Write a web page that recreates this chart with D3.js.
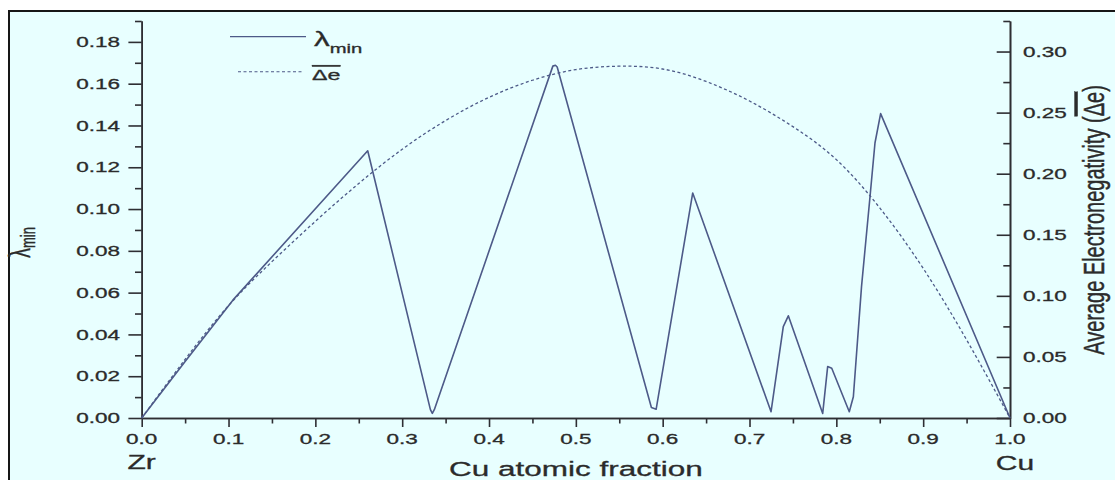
<!DOCTYPE html>
<html>
<head>
<meta charset="utf-8">
<script src="https://cdn.jsdelivr.net/npm/d3@7"></script>
<style>
  html, body { margin: 0; padding: 0; background: #ffffff; }
  svg { display: block; }
  text { font-family: "Liberation Sans", Arial, sans-serif; fill: #2b2b2b; stroke: #2b2b2b; stroke-width: 0.3; }
</style>
</head>
<body>
<svg id="chart" width="1115" height="480"></svg>
<script>
// λmin against Cu atomic fraction (left axis)
const lambdaFraction = [0, 0.05, 0.105, 0.2603, 0.3325, 0.3347, 0.337, 0.4735, 0.4765, 0.4785,
  0.587, 0.5925, 0.6346, 0.7248, 0.7389, 0.7447, 0.7843, 0.7900, 0.7947, 0.8149, 0.8196,
  0.829, 0.8388, 0.8445, 0.851, 1.0];
const lambdaMin = [0, 0.027, 0.0564, 0.1279, 0.004, 0.0022, 0.004, 0.1684, 0.1688, 0.1680,
  0.005, 0.0042, 0.1077, 0.0030, 0.0437, 0.0489, 0.0022, 0.0246, 0.0238, 0.0030, 0.0102,
  0.0629, 0.106, 0.1316, 0.1457, 0];

// average electronegativity difference (right axis)
const deltaEFraction = [0, 0.05, 0.10, 0.15, 0.20, 0.25, 0.30, 0.35, 0.40, 0.45, 0.50,
  0.55, 0.60, 0.65, 0.70, 0.75, 0.80, 0.85, 0.90, 0.95, 1.00];
const deltaE = [0, 0.048, 0.092, 0.128, 0.161, 0.192, 0.220, 0.2435, 0.2625, 0.2765, 0.2852,
  0.2880, 0.2857, 0.2755, 0.2595, 0.2385, 0.2115, 0.1720, 0.1225, 0.0640, 0];

// tick values and labels
const xTicks = [0, 0.1, 0.2, 0.3, 0.4, 0.5, 0.6, 0.7, 0.8, 0.9, 1.0];
const xTickLabels = ["0.0", "0.1", "0.2", "0.3", "0.4", "0.5", "0.6", "0.7", "0.8", "0.9", "1.0"];
const xMinorTicks = [0.05, 0.15, 0.25, 0.35, 0.45, 0.55, 0.65, 0.75, 0.85, 0.95];
const leftTicks = [0, 0.02, 0.04, 0.06, 0.08, 0.10, 0.12, 0.14, 0.16, 0.18];
const leftTickLabels = ["0.00", "0.02", "0.04", "0.06", "0.08", "0.10", "0.12", "0.14", "0.16", "0.18"];
const leftMinorTicks = [0.01, 0.03, 0.05, 0.07, 0.09, 0.11, 0.13, 0.15, 0.17, 0.19];
const rightTicks = [0, 0.05, 0.10, 0.15, 0.20, 0.25, 0.30];
const rightTickLabels = ["0.00", "0.05", "0.10", "0.15", "0.20", "0.25", "0.30"];
const rightMinorTicks = [0.025, 0.075, 0.125, 0.175, 0.225, 0.275, 0.325];
const endLabels = ["Zr", "Cu"];

const svg = d3.select("#chart");
const STRETCH = 1.5;           // wide lettering of the original typesetting
const ink = "#2e2e33";
const lineColor = "#4d5a88";

// panel
svg.append("rect")
  .attr("x", 9).attr("y", 11).attr("width", 1130).attr("height", 490)
  .attr("fill", "#e8ffff").attr("stroke", "#161616").attr("stroke-width", 2);

const x = d3.scaleLinear().domain([0, 1]).range([141.7, 1010]);
const yL = d3.scaleLinear().domain([0, 0.19]).range([418, 21]);
const yR = d3.scaleLinear().domain([0, 0.325]).range([418, 21]);

function styleAxis(g) {
  g.select(".domain").attr("stroke", ink).attr("stroke-width", 1.6);
  g.selectAll(".tick line").attr("stroke", ink).attr("stroke-width", 1.6);
  g.selectAll(".tick text").remove();
}

// x axis
svg.append("g").attr("transform", `translate(0,${yL(0)})`)
  .call(d3.axisBottom(x).tickValues(xMinorTicks).tickSize(5.5).tickSizeOuter(0).tickFormat(""))
  .call(styleAxis);
svg.append("g").attr("transform", `translate(0,${yL(0)})`)
  .call(d3.axisBottom(x).tickValues(xTicks).tickSize(9).tickSizeOuter(0).tickFormat(""))
  .call(styleAxis);

// left axis
svg.append("g").attr("transform", `translate(${x(0)},0)`)
  .call(d3.axisLeft(yL).tickValues(leftMinorTicks).tickSize(6.7).tickSizeOuter(0).tickFormat(""))
  .call(styleAxis);
svg.append("g").attr("transform", `translate(${x(0)},0)`)
  .call(d3.axisLeft(yL).tickValues(leftTicks).tickSize(13.3).tickSizeOuter(0).tickFormat(""))
  .call(styleAxis);

// right axis, ticks pointing into the plot
svg.append("g").attr("transform", `translate(${x(1)},0)`)
  .call(d3.axisRight(yR).tickValues(rightMinorTicks).tickSize(-6.7).tickSizeOuter(0).tickFormat(""))
  .call(styleAxis);
svg.append("g").attr("transform", `translate(${x(1)},0)`)
  .call(d3.axisRight(yR).tickValues(rightTicks).tickSize(-13.3).tickSizeOuter(0).tickFormat(""))
  .call(styleAxis);

// text helper: horizontally widened lettering
function wideText(px, py, str, size, anchor, rotate) {
  const t = svg.append("text")
    .attr("transform", `translate(${px},${py}) scale(${STRETCH},1)` + (rotate ? " rotate(-90)" : ""))
    .attr("font-size", size)
    .attr("text-anchor", anchor || "start");
  if (str !== null) t.text(str);
  return t;
}

// tick labels
xTicks.forEach((v, i) => wideText(x(v), 444, xTickLabels[i], 15, "middle"));
leftTicks.forEach((v, i) => wideText(120, yL(v) + 5.2, leftTickLabels[i], 15, "end"));
rightTicks.forEach((v, i) => wideText(1023, yR(v) + 5.2, rightTickLabels[i], 15, "start"));

// element labels at the composition ends
wideText(x(0), 469, endLabels[0], 20, "middle");
wideText(x(1) + 5, 470, endLabels[1], 20, "middle");

// axis titles
wideText((x(0) + x(1)) / 2, 476, "Cu atomic fraction", 21, "middle");

const lt = wideText(30, 258, null, 20, "start", true);
lt.append("tspan").text("λ");
lt.append("tspan").attr("font-size", 13).attr("dy", 3).text("min");

const rt = wideText(1104, 220, null, 20, "middle", true);
rt.append("tspan").text("Average Electronegativity (");
rt.append("tspan").style("text-decoration", "overline").text("Δe");
rt.append("tspan").text(")");

// curves
const lambdaLine = d3.line()
  .x((d, i) => x(lambdaFraction[i]))
  .y(d => yL(d))
  .curve(d3.curveLinear);
svg.append("path")
  .attr("d", lambdaLine(lambdaMin))
  .attr("fill", "none").attr("stroke", lineColor).attr("stroke-width", 1.6)
  .attr("stroke-linejoin", "round");

const deltaLine = d3.line()
  .x((d, i) => x(deltaEFraction[i]))
  .y(d => yR(d))
  .curve(d3.curveNatural);
svg.append("path")
  .attr("d", deltaLine(deltaE))
  .attr("fill", "none").attr("stroke", lineColor).attr("stroke-width", 1.3)
  .attr("stroke-dasharray", "3,2.5");

// legend
svg.append("line").attr("x1", 230).attr("x2", 306).attr("y1", 36.7).attr("y2", 36.7)
  .attr("stroke", lineColor).attr("stroke-width", 1.3);
svg.append("line").attr("x1", 238).attr("x2", 302).attr("y1", 71.7).attr("y2", 71.7)
  .attr("stroke", lineColor).attr("stroke-width", 1.1).attr("stroke-dasharray", "3,2.5");

const l1 = wideText(314, 46, null, 21, "start");
l1.append("tspan").text("λ");
l1.append("tspan").attr("font-size", 13.5).attr("dy", 7).text("min");

const l2 = wideText(312, 80, null, 15.5, "start");
l2.append("tspan").style("text-decoration", "overline").text("Δe");
</script>
</body>
</html>
